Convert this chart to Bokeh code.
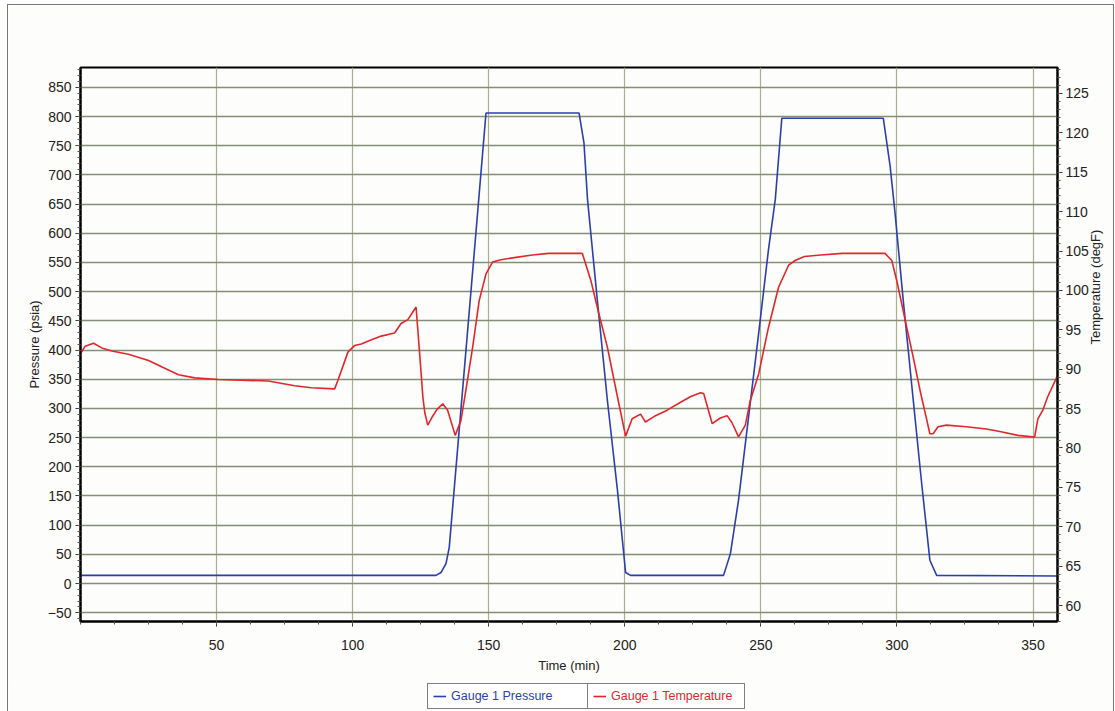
import math
import numpy as np
from bokeh.plotting import figure
from bokeh.layouts import column
from bokeh.models import Range1d, LinearAxis, FixedTicker, Legend, LegendItem
from bokeh.embed import file_html
from bokeh.resources import INLINE

# ---------------- data ----------------
time_pressure = [0, 130.6, 132.5, 134.3, 135.5, 145.3, 149.0, 183.2, 185.0, 186.3, 189.9,
                 193.6, 197.3, 200.3, 202.1, 236.3, 238.8, 241.8, 245.5, 249.2, 252.8,
                 255.3, 257.7, 295.0, 297.5, 299.3, 302.3, 306.0, 309.1, 312.1, 314.6, 359]
pressure_psia = [14, 14, 19, 34, 62, 601, 806, 806, 755, 658, 486,
                 314, 160, 19, 14, 14, 51, 143, 286, 429, 572,
                 658, 797, 797, 715, 635, 486, 314, 171, 40, 14, 13]

time_temp = [0, 1.7, 4.8, 7.8, 11.5, 17.6, 25, 29.8, 36, 42, 50.6, 69, 78.7, 84.8, 93.4,
             94.6, 98.3, 100.7, 103.2, 106, 110.5, 115.4, 117.8, 120.3, 123.3, 124.9,
             125.8, 126.5, 127.6, 129, 131, 133.1, 134.9, 137.7, 139.8, 141.6, 144.1,
             146.5, 149, 151.4, 154.5, 160, 166, 172, 184.4, 187.5, 190.5, 193.6, 197.3,
             200.3, 202.7, 205.8, 207.6, 211.3, 215.6, 220.5, 224.1, 227.8, 229, 232.1,
             235.1, 237.6, 239.4, 241.8, 244.3, 246.1, 249.2, 252.8, 256.5, 260.2, 262.6,
             266, 272, 280, 295.6, 298.1, 299.9, 303.6, 306, 308.5, 311.0, 312.1, 313.3,
             315.1, 318.2, 325.5, 332.9, 337.8, 344.5, 350.6, 351.8, 353.6, 355.4, 358.5, 359]
temp_degF = [92.0, 92.9, 93.3, 92.7, 92.3, 91.9, 91.1, 90.3, 89.3, 88.9, 88.7, 88.5, 87.9, 87.65, 87.5,
             88.6, 92.2, 93.0, 93.2, 93.6, 94.2, 94.6, 95.8, 96.3, 97.9, 90.7,
             86.5, 84.5, 82.9, 83.8, 84.9, 85.6, 84.8, 81.6, 83.5, 87.3, 92.8,
             98.7, 102.1, 103.6, 103.9, 104.2, 104.5, 104.7, 104.7, 101.3, 97.0, 92.8, 86.5,
             81.5, 83.7, 84.3, 83.3, 84.1, 84.8, 85.8, 86.5, 87.0, 86.9, 83.1,
             83.8, 84.1, 83.2, 81.4, 82.9, 86.0, 89.4, 95.3, 100.4, 103.2, 103.8,
             104.3, 104.5, 104.7, 104.7, 103.8, 101.3, 95.3, 91.5, 87.3, 83.5, 81.8, 81.8,
             82.7, 82.9, 82.7, 82.4, 82.1, 81.6, 81.4, 83.7, 84.8, 86.5, 88.8, 89.2]

x_ticks = [50, 100, 150, 200, 250, 300, 350]
y_ticks = [-50, 0, 50, 100, 150, 200, 250, 300, 350, 400, 450, 500, 550, 600, 650, 700, 750, 800, 850]
y2_ticks = [60, 65, 70, 75, 80, 85, 90, 95, 100, 105, 110, 115, 120, 125]

series_labels = ["Gauge 1 Pressure", "Gauge 1 Temperature"]

BLUE = "#2b3fae"
RED = "#e3262b"
FONT = "Liberation Sans"
BG = "#fdfdfb"

x_minor = list(np.arange(0, 360, 12.5))
y_minor = list(np.arange(-60, 885, 10))
y2_minor = list(np.arange(58, 129, 1))

W = 1105
p = figure(width=W, height=678, output_backend="svg", toolbar_location=None,
           x_range=Range1d(0, 359), y_range=Range1d(-65, 884),
           min_border_left=72, min_border_right=55, min_border_top=62, min_border_bottom=62,
           background_fill_color=BG, border_fill_color=BG)
p.extra_y_ranges = {"temp": Range1d(57.97, 128.3)}

p.outline_line_color = "black"
p.outline_line_width = 2

xt = FixedTicker(ticks=x_ticks, minor_ticks=x_minor)
yt = FixedTicker(ticks=y_ticks, minor_ticks=y_minor)
y2t = FixedTicker(ticks=y2_ticks, minor_ticks=y2_minor)
p.xaxis.ticker = xt
p.yaxis.ticker = yt
p.xgrid.ticker = xt
p.ygrid.ticker = yt

p.xgrid.grid_line_color = "#a9b08f"
p.xgrid.grid_line_width = 1.2
p.ygrid.grid_line_color = "#858f78"
p.ygrid.grid_line_width = 1.6

left = p.yaxis[0]
bottom = p.xaxis[0]
left.axis_label = "Pressure (psia)"
bottom.axis_label = "Time (min)"

right = LinearAxis(y_range_name="temp", ticker=y2t, axis_label="Temperature (degF)")
p.add_layout(right, "right")

for ax in [bottom, left, right]:
    ax.axis_line_color = "black"
    ax.axis_line_width = 2
    ax.major_tick_out = 5
    ax.major_tick_in = 0
    ax.minor_tick_out = 3
    ax.minor_tick_in = 0
    ax.major_tick_line_color = "#333"
    ax.minor_tick_line_color = "#555"
    ax.major_label_text_font = FONT
    ax.major_label_text_font_size = "14px"
    ax.major_label_text_color = "#222"
    ax.axis_label_text_font = FONT
    ax.axis_label_text_font_size = "13px"
    ax.axis_label_text_font_style = "normal"
    ax.axis_label_text_color = "#222"

bottom.major_label_standoff = 13
bottom.axis_label_standoff = 5
left.major_label_standoff = 4
left.axis_label_standoff = 3
right.major_label_standoff = 3
right.axis_label_standoff = 4
right.axis_label_orientation = math.pi / 2

r_p = p.line(time_pressure, pressure_psia, line_color=BLUE, line_width=1.6)
r_t = p.line(time_temp, temp_degF, y_range_name="temp", line_color=RED, line_width=1.6)

# ---------------- legend strip ----------------
# same series, drawn off-view (x range before t=0) so only their legend keys show
lf = figure(width=W, height=28, output_backend="svg", toolbar_location=None,
            x_axis_location=None, y_axis_location=None, min_border=0,
            x_range=Range1d(-30, -20), y_range=Range1d(0, 1000),
            background_fill_color=BG, border_fill_color=BG)
lf.outline_line_color = None
lf.grid.visible = False
k_p = lf.line(time_pressure, pressure_psia, line_color=BLUE, line_width=1.6)
k_t = lf.line(time_temp, temp_degF, line_color=RED, line_width=1.6)


def make_legend(label, rend, color, loc, lw):
    return Legend(items=[LegendItem(label=label, renderers=[rend])], location=loc,
                  orientation="horizontal", padding=5, margin=0, spacing=0,
                  glyph_width=13, glyph_height=14, label_height=14, label_standoff=5,
                  label_width=lw, label_text_font=FONT, label_text_font_size="12.5px",
                  label_text_color=color, border_line_color="black", border_line_width=1.2,
                  background_fill_color="white", background_fill_alpha=1.0)


lf.add_layout(make_legend(series_labels[0], k_p, BLUE, (347, 2), 132))
lf.add_layout(make_legend(series_labels[1], k_t, RED, (507, 2), 128))

layout = column(p, lf, spacing=0)
layout.margin = (5, 2, 0, 8)
layout.styles = {"outline": "1px solid #777"}

open("out.html", "w").write(file_html(layout, INLINE))
